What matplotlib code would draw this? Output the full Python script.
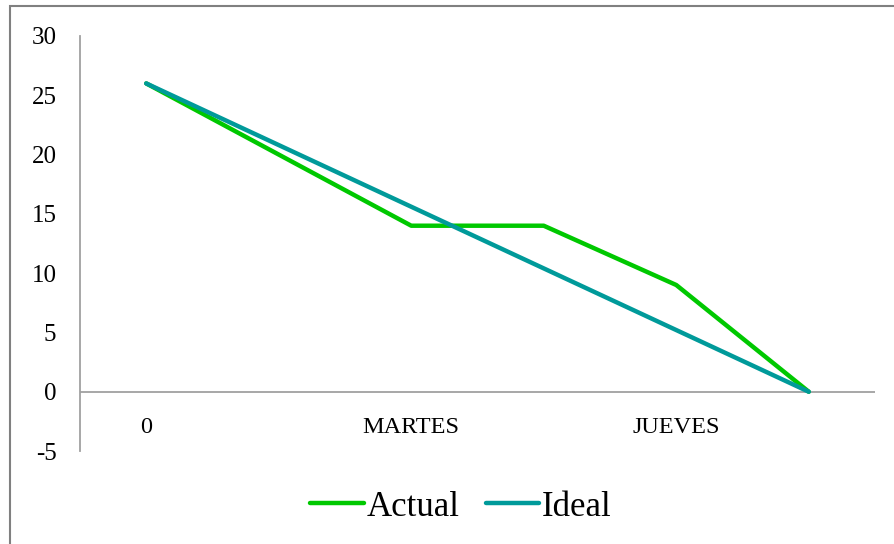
import numpy as np
import matplotlib.pyplot as plt
from matplotlib.lines import Line2D
from matplotlib.patches import Rectangle

# burndown data
tick_labels = ['0', '', 'MARTES', '', 'JUEVES', '']
actual = [26, 20, 14, 14, 9, 0]
ideal = [26, 20.8, 15.6, 10.4, 5.2, 0]
y_ticks = [-5, 0, 5, 10, 15, 20, 25, 30]

plt.rcParams['font.family'] = ['Liberation Serif', 'DejaVu Serif']

fig = plt.figure(figsize=(8.94, 5.44), dpi=100)
ax = fig.add_axes([80 / 894, 1 - 451 / 544, 795 / 894, 415 / 544])

x = np.arange(len(actual))
green = '#00c800'
teal = '#009a9a'
ax.plot(x, actual, color=green, lw=3.2, solid_capstyle='round', label='Actual')
ax.plot(x, ideal, color=teal, lw=3.2, solid_capstyle='round', label='Ideal')

ax.set_xlim(-0.5, len(x) - 0.5)
ax.set_ylim(-5, 30)
ax.set_yticks(y_ticks)
ax.set_yticklabels([str(v) for v in y_ticks])
ax.tick_params(axis='y', length=0, pad=17, labelsize=18)
ax.set_xticks([])

for s in ['top', 'right', 'bottom']:
    ax.spines[s].set_visible(False)
ax.spines['left'].set_color('#a0a0a0')
ax.spines['left'].set_linewidth(1.3)
ax.axhline(0, color='#a0a0a0', lw=1.3, zorder=1)

# category labels sit under the zero line
for i, lab in enumerate(tick_labels):
    if lab:
        ax.annotate(lab, xy=(i, 0), xytext=(0, -25.5), textcoords='offset points',
                    ha='center', va='center', fontsize=17.5)

handles = [Line2D([], [], color=green, lw=3.2, solid_capstyle='round'),
           Line2D([], [], color=teal, lw=3.2, solid_capstyle='round')]
fig.legend(handles, ['Actual', 'Ideal'], loc='center', bbox_to_anchor=(461 / 894, 1 - 507 / 544),
           ncol=2, frameon=False, fontsize=25, handlelength=1.55, handletextpad=0.08,
           columnspacing=0.75)

# outer chart border
fig.patches.append(Rectangle((10 / 894, -0.1), 1.1, 1 - 6 / 544 + 0.1, transform=fig.transFigure,
                             fill=False, edgecolor='#808080', lw=1.5))

fig.savefig('out.png', dpi=100)
